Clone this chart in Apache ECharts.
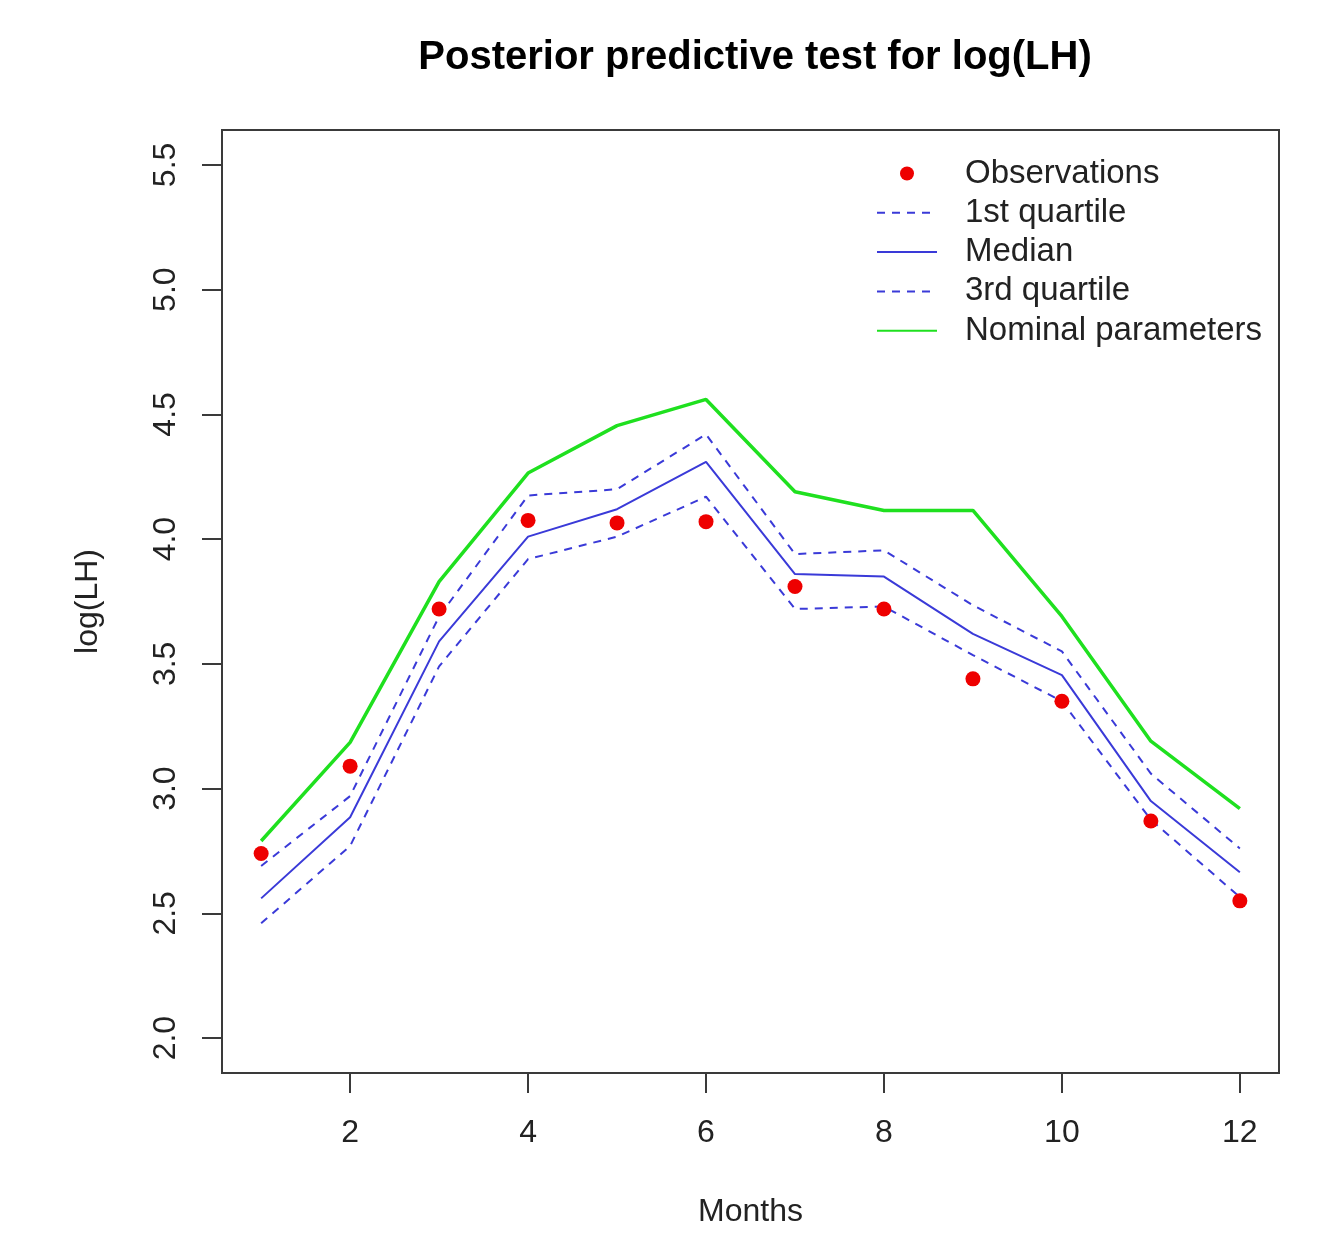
<!DOCTYPE html>
<html><head><meta charset="utf-8">
<script src="https://cdn.jsdelivr.net/npm/echarts@6/dist/echarts.min.js"></script>
<style>html,body{margin:0;padding:0;background:#fff}#c{width:1323px;height:1238px}</style>
</head><body><div id="c"></div>
<script>
const months = [1,2,3,4,5,6,7,8,9,10,11,12];
const observations = [2.74, 3.09, 3.72, 4.075, 4.065, 4.07, 3.81, 3.72, 3.44, 3.35, 2.87, 2.55];
const quartile1 = [2.46, 2.77, 3.49, 3.92, 4.01, 4.17, 3.72, 3.73, 3.535, 3.35, 2.875, 2.565];
const median = [2.56, 2.885, 3.59, 4.01, 4.12, 4.31, 3.86, 3.85, 3.62, 3.455, 2.95, 2.665];
const quartile3 = [2.69, 2.97, 3.69, 4.175, 4.2, 4.42, 3.94, 3.955, 3.735, 3.55, 3.06, 2.76];
const nominal = [2.79, 3.185, 3.83, 4.265, 4.455, 4.56, 4.19, 4.115, 4.115, 3.69, 3.19, 2.92];
const xTicks = [2, 4, 6, 8, 10, 12];
const yTicks = [2.0, 2.5, 3.0, 3.5, 4.0, 4.5, 5.0, 5.5];

const pair = arr => months.map((m, i) => [m, arr[i]]);
const FONT = '"Liberation Sans", Arial, Helvetica, sans-serif';
const AX = '#3a3a3a';
const BLUE = '#3a3ad8';
const HIDE = {opacity: 0};

const chart = echarts.init(document.getElementById('c'), null, {renderer: 'canvas'});
chart.setOption({
  animation: false,
  backgroundColor: '#fff',
  title: {
    text: 'Posterior predictive test for log(LH)',
    left: 750, textAlign: 'center', top: 33,
    textStyle: {fontFamily: FONT, fontSize: 40, fontWeight: 'bold', color: '#000'}
  },
  grid: {left: 222, right: 44, top: 130, bottom: 165, show: true, borderColor: AX, borderWidth: 2},
  legend: {
    orient: 'vertical', left: 876, top: 157, padding: 0,
    itemWidth: 60, itemHeight: 14, itemGap: 6.3,
    textStyle: {fontFamily: FONT, fontSize: 33, color: '#222', padding: [0, 0, 0, 23]},
    data: [
      {name: 'Observations', icon: 'circle'},
      {name: '1st quartile', itemStyle: HIDE},
      {name: 'Median', itemStyle: HIDE},
      {name: '3rd quartile', itemStyle: HIDE},
      {name: 'Nominal parameters', itemStyle: HIDE}
    ]
  },
  xAxis: {
    type: 'value', min: 0.56, max: 12.44,
    name: 'Months', nameLocation: 'middle', nameGap: 123,
    nameTextStyle: {fontFamily: FONT, fontSize: 32, color: '#222'},
    axisLine: {show: false},
    axisTick: {show: true, inside: false, length: 20, customValues: xTicks, lineStyle: {color: AX, width: 2}},
    axisLabel: {customValues: xTicks, margin: 44, fontFamily: FONT, fontSize: 32, color: '#222'},
    splitLine: {show: false}
  },
  yAxis: {
    type: 'value', min: 1.86, max: 5.64,
    name: 'log(LH)', nameLocation: 'middle', nameGap: 118,
    nameTextStyle: {fontFamily: FONT, fontSize: 32, color: '#222'},
    axisLine: {show: false},
    axisTick: {show: true, inside: false, length: 20, customValues: yTicks, lineStyle: {color: AX, width: 2}},
    axisLabel: {customValues: yTicks, rotate: 90, margin: 40, fontFamily: FONT, fontSize: 32, color: '#222',
      formatter: v => Number(v).toFixed(1)},
    splitLine: {show: false}
  },
  series: [
    {name: 'Nominal parameters', type: 'line', data: pair(nominal), symbol: 'none',
      lineStyle: {color: '#1fe01f', width: 3.5}, itemStyle: {color: '#1fe01f'}, z: 2},
    {name: '3rd quartile', type: 'line', data: pair(quartile3), symbol: 'none',
      lineStyle: {color: BLUE, width: 2, type: [8, 7]}, itemStyle: {color: BLUE}, z: 3},
    {name: 'Median', type: 'line', data: pair(median), symbol: 'none',
      lineStyle: {color: BLUE, width: 2}, itemStyle: {color: BLUE}, z: 3},
    {name: '1st quartile', type: 'line', data: pair(quartile1), symbol: 'none',
      lineStyle: {color: BLUE, width: 2, type: [8, 7]}, itemStyle: {color: BLUE}, z: 3},
    {name: 'Observations', type: 'scatter', data: pair(observations), symbol: 'circle', symbolSize: 15,
      itemStyle: {color: '#ee0000', opacity: 1}, z: 5}
  ]
});
</script></body></html>
